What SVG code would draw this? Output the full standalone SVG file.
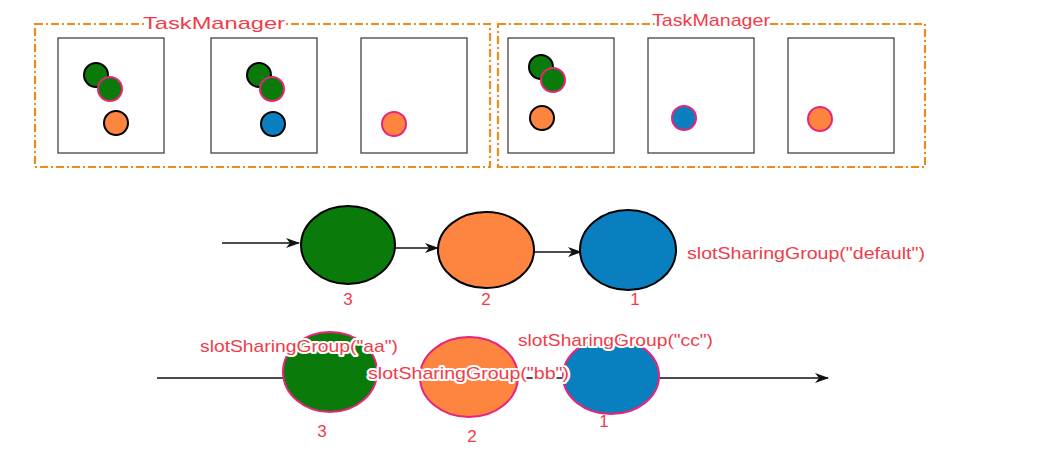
<svg xmlns="http://www.w3.org/2000/svg" width="1056" height="450" viewBox="0 0 1056 450">
<style>
.tm{fill:none;stroke:#f08a1c;stroke-width:2.2;stroke-dasharray:8 3 2 3}
.slot{fill:#fff;stroke:#444;stroke-width:1.3}
.lbl{font-family:"Liberation Sans",Arial,sans-serif;font-size:17px;fill:#f03c4a}
.halo{stroke:#fff;stroke-width:4;stroke-linejoin:round;paint-order:stroke}
.g{fill:#0a7a0a}.o{fill:#fe8540}.b{fill:#0a7fc0}
.k{stroke:#000;stroke-width:2}.p{stroke:#e8247a;stroke-width:2}
.ln{stroke:#111;stroke-width:1.3;fill:none}
</style>
<defs><marker id="ar" markerWidth="14" markerHeight="10" refX="13" refY="5" orient="auto" markerUnits="userSpaceOnUse"><path d="M0,0 L14,5 L0,10 L4,5Z" fill="#111"/></marker></defs>
<rect width="1056" height="450" fill="#fff"/>
<g id="tm1"><rect class="tm" x="35" y="24" width="455" height="143"/><text class="lbl halo" x="143" y="29" textLength="142" lengthAdjust="spacingAndGlyphs">TaskManager</text>
<rect class="slot" x="58" y="38" width="106" height="115"/><rect class="slot" x="211" y="38" width="106" height="115"/><rect class="slot" x="361" y="38" width="106" height="115"/>
<circle class="g k" cx="96" cy="75" r="12"/><circle class="g p" cx="110" cy="89" r="12"/><circle class="o k" cx="116" cy="123" r="12"/>
<circle class="g k" cx="259" cy="75" r="12"/><circle class="g p" cx="272" cy="89" r="12"/><circle class="b k" cx="273" cy="124" r="12"/>
<circle class="o p" cx="394" cy="124" r="12"/></g>
<g id="tm2"><rect class="tm" x="498" y="24" width="427" height="143"/><text class="lbl halo" x="652" y="26" textLength="118" lengthAdjust="spacingAndGlyphs">TaskManager</text>
<rect class="slot" x="508" y="38" width="106" height="115"/><rect class="slot" x="648" y="38" width="106" height="115"/><rect class="slot" x="788" y="38" width="106" height="115"/>
<circle class="g k" cx="541" cy="67" r="12"/><circle class="g p" cx="553" cy="80" r="12"/><circle class="o k" cx="542" cy="118" r="12"/>
<circle class="b p" cx="684" cy="118" r="12"/><circle class="o p" cx="820" cy="119" r="12"/></g>
<g id="connectors">
<line class="ln" x1="222" y1="243" x2="299" y2="243" marker-end="url(#ar)"/>
<line class="ln" x1="395" y1="248" x2="438" y2="248" marker-end="url(#ar)"/>
<line class="ln" x1="534" y1="252" x2="581" y2="252" marker-end="url(#ar)"/>
<line class="ln" x1="157" y1="378" x2="828" y2="378" marker-end="url(#ar)"/>
</g>
<g id="n3"><ellipse class="g k" cx="348" cy="245" rx="47" ry="39"/><text class="lbl" x="348" y="305" text-anchor="middle">3</text></g>
<g id="n2"><ellipse class="o k" cx="486" cy="250" rx="48" ry="38"/><text class="lbl" x="486" y="305" text-anchor="middle">2</text></g>
<g id="n1"><ellipse class="b k" cx="628" cy="250" rx="48" ry="40"/><text class="lbl" x="635" y="305" text-anchor="middle">1</text></g>
<text class="lbl" x="687" y="259" textLength="238" lengthAdjust="spacingAndGlyphs">slotSharingGroup("default")</text>
<g id="b3"><ellipse class="g p" cx="330" cy="372" rx="47" ry="40"/><text class="lbl" x="322" y="437" text-anchor="middle">3</text></g>
<g id="b2"><ellipse class="o p" cx="469" cy="377" rx="49" ry="40"/><text class="lbl" x="472" y="442" text-anchor="middle">2</text></g>
<g id="b1"><ellipse class="b p" cx="611" cy="376" rx="48" ry="38"/><text class="lbl" x="604" y="427" text-anchor="middle">1</text></g>
<text class="lbl halo" x="200" y="352" textLength="198" lengthAdjust="spacingAndGlyphs">slotSharingGroup("aa")</text>
<text class="lbl halo" x="368" y="379" textLength="201" lengthAdjust="spacingAndGlyphs">slotSharingGroup("bb")</text>
<text class="lbl halo" x="518" y="346" textLength="195" lengthAdjust="spacingAndGlyphs">slotSharingGroup("cc")</text>
</svg>
